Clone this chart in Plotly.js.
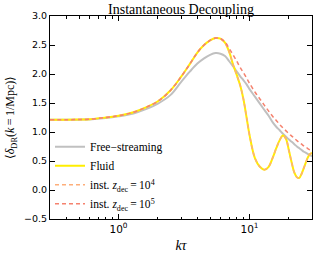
<!DOCTYPE html>
<html>
<head>
<meta charset="utf-8">
<script src="https://cdn.plot.ly/plotly-3.0.1.min.js"></script>
<style>html,body{margin:0;padding:0;background:#fff;}#chart{width:316px;height:254px;}</style>
</head>
<body>
<div id="chart"></div>
<script>
// k*tau sample points
const ktau = [0.3,0.4,0.5,0.6,0.8,1.0,1.3,1.6,2.0,2.5,3.0,3.5,4.0,4.5,5.0,5.5,6.0,6.5,7.0,7.5,8.0,8.5,9.0,9.5,10,11,12,13,14,15,16,17,18,19,20,21,22,23,24,25,26,27,28,29,30];

// Free-streaming
const freeStreaming = [1.21,1.21,1.213,1.217,1.24,1.27,1.32,1.39,1.49,1.64,1.86,2.04,2.18,2.27,2.33,2.36,2.35,2.31,2.22,2.13,2.04,1.96,1.89,1.82,1.74,1.61,1.49,1.38,1.28,1.17,1.09,1.03,0.97,0.92,0.87,0.83,0.79,0.75,0.72,0.69,0.66,0.64,0.62,0.60,0.58];

// Fluid
const fluid = [1.21,1.212,1.215,1.22,1.25,1.28,1.34,1.42,1.53,1.72,1.95,2.17,2.37,2.50,2.58,2.62,2.61,2.54,2.38,2.16,1.98,1.80,1.56,1.25,0.95,0.55,0.40,0.35,0.40,0.55,0.72,0.86,0.94,0.88,0.68,0.47,0.30,0.22,0.21,0.28,0.38,0.48,0.57,0.62,0.64];

// Instantaneous decoupling, z_dec = 1e4 (overlaps fluid)
const instZ4 = [1.21,1.212,1.215,1.22,1.25,1.28,1.34,1.42,1.53,1.72,1.95,2.17,2.37,2.50,2.58,2.62,2.61,2.54,2.38,2.16,1.98,1.80,1.56,1.25,0.95,0.55,0.40,0.35,0.40,0.55,0.72,0.86,0.94,0.88,0.68,0.47,0.30,0.22,0.21,0.28,0.38,0.48,0.57,0.62,0.64];

// Instantaneous decoupling, z_dec = 1e5
const instZ5 = [1.21,1.212,1.215,1.22,1.25,1.28,1.34,1.42,1.53,1.72,1.95,2.17,2.37,2.50,2.58,2.62,2.61,2.55,2.44,2.33,2.22,2.11,2.02,1.93,1.84,1.69,1.57,1.46,1.36,1.27,1.20,1.13,1.07,1.02,0.97,0.93,0.89,0.85,0.82,0.79,0.76,0.74,0.71,0.69,0.67];

const names = ['Free\u2212streaming','Fluid','inst. <i>z</i><sub>dec</sub>\u2009=\u200910<sup>4</sup>','inst. <i>z</i><sub>dec</sub>\u2009=\u200910<sup>5</sup>'];
const xTickVals = [1, 10];
const xTickText = ['10<sup>0</sup>', '10<sup>1</sup>'];
const xMinorVals = [0.3,0.4,0.5,0.6,0.7,0.8,0.9,2,3,4,5,6,7,8,9,20,30];

const traces = [
  {x: ktau, y: freeStreaming, name: names[0], mode: 'lines', line: {color: '#c0c0c0', width: 2, shape: 'spline'}},
  {x: ktau, y: fluid, name: names[1], mode: 'lines', line: {color: '#ffee00', width: 2, shape: 'spline'}},
  {x: ktau, y: instZ4, name: names[2], mode: 'lines', line: {color: '#fdae7a', width: 1.5, dash: '4px,3px', shape: 'spline'}},
  {x: ktau, y: instZ5, name: names[3], mode: 'lines', line: {color: '#f5826e', width: 1.5, dash: '4px,3px', shape: 'spline'}}
];

const serif = 'Liberation Serif, Times New Roman, serif';
const layout = {
  width: 316, height: 254,
  margin: {l: 50, r: 4, t: 16, b: 35},
  paper_bgcolor: '#fff', plot_bgcolor: '#fff',
  showlegend: true,
  title: {text: 'Instantaneous Decoupling', font: {family: serif, size: 14, color: '#000'}, x: 0.5, xref: 'paper', y: 1, yref: 'paper', yanchor: 'bottom', pad: {b: 2}},
  legend: {x: 0.0, y: 0.215, xanchor: 'left', yanchor: 'middle', bgcolor: 'rgba(0,0,0,0)', font: {family: serif, size: 11.5, color: '#000'}},
  xaxis: {
    type: 'log', range: [Math.log10(0.3), Math.log10(30)],
    tickmode: 'array', tickvals: xTickVals, ticktext: xTickText,
    ticks: 'inside', ticklen: 5, tickcolor: '#000', showline: true, linecolor: '#000', linewidth: 1, mirror: 'ticks',
    showgrid: false, zeroline: false,
    minor: {tickmode: 'array', tickvals: xMinorVals, ticks: 'inside', ticklen: 2.5, tickcolor: '#000', showgrid: false},
    tickfont: {family: 'DejaVu Sans, sans-serif', size: 10.5, color: '#000'},
    title: {text: '<i>k\u03c4</i>', font: {family: serif, size: 14, color: '#000'}, standoff: 6}
  },
  yaxis: {
    range: [-0.5, 3.0], dtick: 0.5, tick0: 0, tickformat: '.1f',
    ticks: 'inside', ticklen: 5, tickcolor: '#000', showline: true, linecolor: '#000', linewidth: 1, mirror: 'ticks',
    showgrid: false, zeroline: false,
    tickfont: {family: 'DejaVu Sans, sans-serif', size: 9.5, color: '#000'},
    title: {text: '\u27e8<i>\u03b4</i><sub>DR</sub>(<i>k</i>\u2009=\u20091/Mpc)\u27e9', font: {family: serif, size: 12, color: '#000'}, standoff: 6}
  }
};

Plotly.newPlot('chart', traces, layout, {staticPlot: true, displayModeBar: false});
</script>
</body>
</html>
